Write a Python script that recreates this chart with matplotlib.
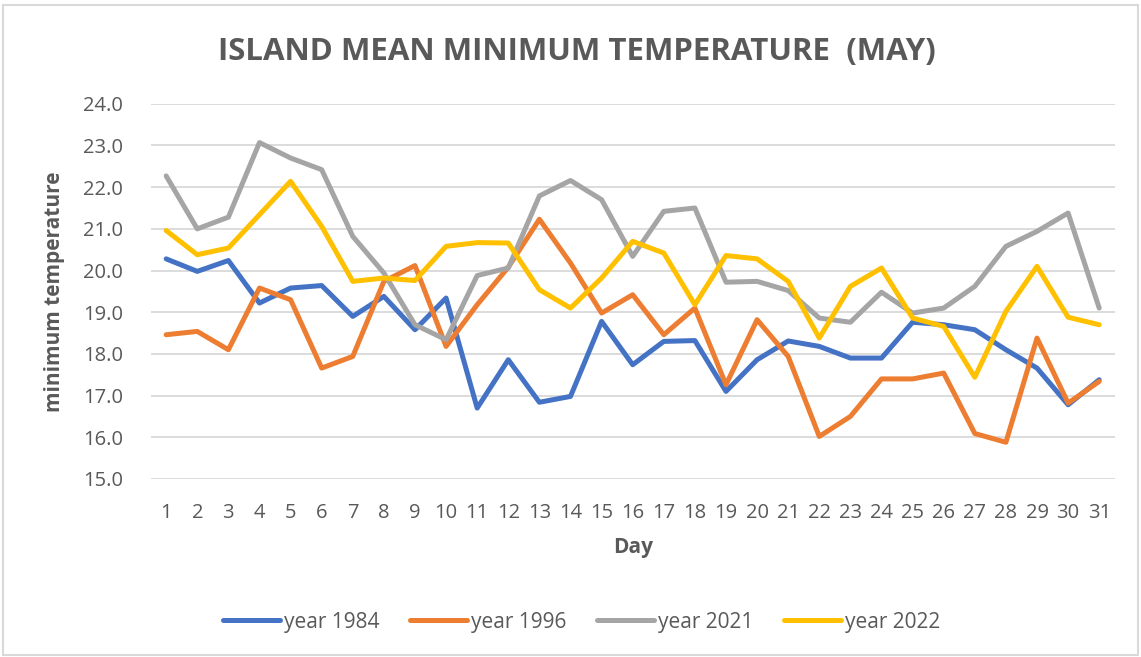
import matplotlib.pyplot as plt
from matplotlib.patches import Rectangle

plt.rcParams['font.family'] = ['Open Sans', 'DejaVu Sans']

days = list(range(1, 32))
year_1984 = [20.28, 19.98, 20.24, 19.22, 19.58, 19.64, 18.90, 19.38, 18.58, 19.34,
             16.70, 17.86, 16.84, 16.98, 18.78, 17.74, 18.30, 18.32, 17.10, 17.86,
             18.31, 18.18, 17.90, 17.90, 18.76, 18.70, 18.58, 18.10, 17.66, 16.78, 17.38]
year_1996 = [18.46, 18.54, 18.10, 19.58, 19.30, 17.66, 17.94, 19.74, 20.12, 18.18,
             19.18, 20.08, 21.23, 20.18, 18.98, 19.42, 18.46, 19.10, 17.26, 18.82,
             17.94, 16.02, 16.50, 17.40, 17.40, 17.54, 16.09, 15.88, 18.38, 16.82, 17.34]
year_2021 = [22.27, 21.00, 21.28, 23.07, 22.70, 22.42, 20.82, 19.94, 18.70, 18.34,
             19.88, 20.06, 21.79, 22.16, 21.70, 20.34, 21.42, 21.50, 19.72, 19.74,
             19.52, 18.86, 18.76, 19.48, 18.98, 19.10, 19.62, 20.58, 20.94, 21.38, 19.10]
year_2022 = [20.96, 20.38, 20.54, 21.34, 22.14, 21.06, 19.74, 19.82, 19.76, 20.58,
             20.67, 20.66, 19.54, 19.10, 19.82, 20.70, 20.42, 19.18, 20.36, 20.28,
             19.74, 18.38, 19.62, 20.06, 18.86, 18.66, 17.44, 19.02, 20.10, 18.88, 18.70]

series = [('year 1984', year_1984, '#4472C4'),
          ('year 1996', year_1996, '#ED7D31'),
          ('year 2021', year_2021, '#A5A5A5'),
          ('year 2022', year_2022, '#FFC000')]

text_color = '#595959'

fig = plt.figure(figsize=(11.41, 6.57), dpi=100)
fig.patches.append(Rectangle((0.003, 0.003), 0.994, 0.990, transform=fig.transFigure,
                             fill=False, edgecolor='#d9d9d9', linewidth=1.5))
ax = fig.add_axes([0.132, 0.271, 0.845, 0.571])

for name, vals, color in series:
    ax.plot(days, vals, color=color, linewidth=3.6, label=name, solid_capstyle='round')

ax.set_xlim(0.5, 31.5)
ax.set_ylim(15, 24)
ax.set_yticks([15 + i for i in range(10)])
ax.set_yticklabels([f'{15 + i:.1f}' for i in range(10)])
ax.set_xticks(days)
ax.grid(axis='y', color='#d9d9d9', linewidth=1.3)
ax.set_axisbelow(True)
for s in ax.spines.values():
    s.set_visible(False)
ax.tick_params(length=0, labelsize=14.5, colors=text_color)
ax.tick_params(axis='y', pad=20)
ax.tick_params(axis='x', pad=17)

ax.set_xlabel('Day', fontsize=15, fontweight='bold', color=text_color)
ax.set_ylabel('minimum temperature', fontsize=15, fontweight='bold', color=text_color)
ax.xaxis.set_label_coords(0.5, -0.155)
ax.yaxis.set_label_coords(-0.089, 0.5)

fig.text(0.506, 0.921, 'ISLAND MEAN MINIMUM TEMPERATURE  (MAY)', ha='center', va='center',
         fontsize=22.5, fontweight='bold', color=text_color)

fig.legend(loc='center', bbox_to_anchor=(0.5097, 0.053), ncol=4, frameon=False,
           fontsize=15, handlelength=2.75, handletextpad=0.2, columnspacing=1.45,
           labelcolor=text_color)

fig.savefig('out.png', dpi=100)
